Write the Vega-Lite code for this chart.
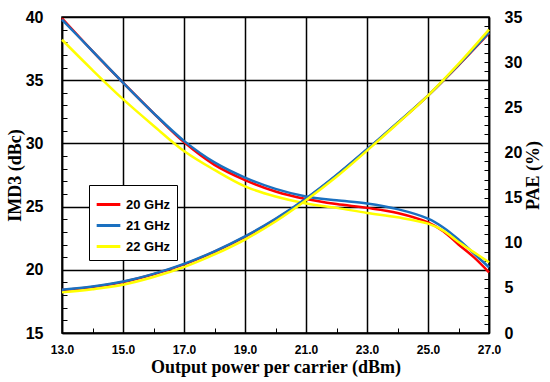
{
"$schema": "https://vega.github.io/schema/vega-lite/v6.json",
"width": 427, "height": 316,
"autosize": {"type": "none"},
"padding": {"left": 62, "top": 17, "right": 61, "bottom": 49},
"background": "white",
"config": {
  "view": {"stroke": "black", "strokeWidth": 1.5},
  "axis": {"domainColor": "black", "domainWidth": 1.5, "tickColor": "black", "tickWidth": 1, "tickSize": -5, "gridColor": "black", "gridWidth": 1.5,
    "labelFont": "Liberation Sans", "labelFontWeight": "bold", "labelColor": "black",
    "titleFont": "Liberation Serif", "titleFontWeight": "bold", "titleColor": "black", "titleFontSize": 18},
  "legend": {"orient": "none", "legendX": 27, "legendY": 168, "title": null, "strokeColor": "black", "fillColor": "white", "padding": 6,
    "symbolType": "stroke", "symbolSize": 560, "symbolStrokeWidth": 3, "labelFont": "Liberation Sans", "labelFontWeight": "bold", "labelFontSize": 13, "labelColor": "black", "rowPadding": 0, "labelOffset": 4}
},
"data": {"values": [
{"s":"20 GHz","x":13,"imd":39.9,"pae":4.75},
{"s":"20 GHz","x":14,"imd":37.3,"pae":5.1},
{"s":"20 GHz","x":15,"imd":34.8,"pae":5.65},
{"s":"20 GHz","x":16,"imd":32.4,"pae":6.5},
{"s":"20 GHz","x":17,"imd":30.1,"pae":7.6},
{"s":"20 GHz","x":18,"imd":28.3,"pae":9.0},
{"s":"20 GHz","x":19,"imd":27.1,"pae":10.65},
{"s":"20 GHz","x":20,"imd":26.2,"pae":12.6},
{"s":"20 GHz","x":21,"imd":25.6,"pae":14.85},
{"s":"20 GHz","x":22,"imd":25.2,"pae":17.45},
{"s":"20 GHz","x":23,"imd":24.9,"pae":20.3},
{"s":"20 GHz","x":24,"imd":24.5,"pae":23.25},
{"s":"20 GHz","x":25,"imd":23.75,"pae":26.3},
{"s":"20 GHz","x":25.5,"imd":23.05,"pae":null},
{"s":"20 GHz","x":26,"imd":22.0,"pae":29.65},
{"s":"20 GHz","x":26.5,"imd":21.0,"pae":null},
{"s":"20 GHz","x":27,"imd":19.8,"pae":33.2},
{"s":"21 GHz","x":13,"imd":39.8,"pae":4.8},
{"s":"21 GHz","x":14,"imd":37.3,"pae":5.15},
{"s":"21 GHz","x":15,"imd":34.8,"pae":5.7},
{"s":"21 GHz","x":16,"imd":32.4,"pae":6.55},
{"s":"21 GHz","x":17,"imd":30.2,"pae":7.65},
{"s":"21 GHz","x":18,"imd":28.5,"pae":9.05},
{"s":"21 GHz","x":19,"imd":27.3,"pae":10.7},
{"s":"21 GHz","x":20,"imd":26.4,"pae":12.65},
{"s":"21 GHz","x":21,"imd":25.8,"pae":14.9},
{"s":"21 GHz","x":22,"imd":25.5,"pae":17.5},
{"s":"21 GHz","x":23,"imd":25.25,"pae":20.35},
{"s":"21 GHz","x":24,"imd":24.8,"pae":23.3},
{"s":"21 GHz","x":25,"imd":24.05,"pae":26.3},
{"s":"21 GHz","x":25.5,"imd":23.35,"pae":null},
{"s":"21 GHz","x":26,"imd":22.4,"pae":29.7},
{"s":"21 GHz","x":26.5,"imd":21.3,"pae":null},
{"s":"21 GHz","x":27,"imd":20.2,"pae":33.3},
{"s":"22 GHz","x":13,"imd":38.2,"pae":4.5},
{"s":"22 GHz","x":14,"imd":35.8,"pae":4.85},
{"s":"22 GHz","x":15,"imd":33.5,"pae":5.35},
{"s":"22 GHz","x":16,"imd":31.4,"pae":6.2},
{"s":"22 GHz","x":17,"imd":29.4,"pae":7.3},
{"s":"22 GHz","x":18,"imd":27.9,"pae":8.7},
{"s":"22 GHz","x":19,"imd":26.6,"pae":10.35},
{"s":"22 GHz","x":20,"imd":25.8,"pae":12.35},
{"s":"22 GHz","x":21,"imd":25.25,"pae":14.7},
{"s":"22 GHz","x":22,"imd":24.9,"pae":17.3},
{"s":"22 GHz","x":23,"imd":24.5,"pae":20.2},
{"s":"22 GHz","x":24,"imd":24.15,"pae":23.2},
{"s":"22 GHz","x":25,"imd":23.65,"pae":26.3},
{"s":"22 GHz","x":25.5,"imd":23.1,"pae":null},
{"s":"22 GHz","x":26,"imd":22.2,"pae":29.8},
{"s":"22 GHz","x":26.5,"imd":21.4,"pae":null},
{"s":"22 GHz","x":27,"imd":20.6,"pae":33.6}
]},
"encoding": {
  "x": {"field": "x", "type": "quantitative", "scale": {"domain": [13, 27], "nice": false, "zero": false},
    "axis": {"title": "Output power per carrier (dBm)", "values": [13,14,15,16,17,18,19,20,21,22,23,24,25,26,27],
      "labelExpr": "datum.value % 2 == 1 ? format(datum.value, '.1f') : ''", "labelFontSize": 12, "labelPadding": 16, "titlePadding": 3,
      "grid": true, "gridOpacity": {"condition": {"test": "datum.value % 2 == 1", "value": 1}, "value": 0}, "labelFlush": false, "labelOverlap": false}},
  "color": {"field": "s", "type": "nominal", "scale": {"domain": ["20 GHz", "21 GHz", "22 GHz"], "range": ["#ff0000", "#1a70c0", "#ffff00"]}}
},
"layer": [
  {"mark": {"type": "line", "strokeWidth": 2.5, "interpolate": "catmull-rom"},
   "encoding": {"y": {"field": "imd", "type": "quantitative", "scale": {"domain": [15, 40], "nice": false, "zero": false},
     "axis": {"title": "IMD3 (dBc)", "orient": "left", "values": [15,16,17,18,19,20,21,22,23,24,25,26,27,28,29,30,31,32,33,34,35,36,37,38,39,40],
       "labelExpr": "datum.value % 5 == 0 ? datum.label : ''", "labelFontSize": 16, "labelPadding": 24, "titlePadding": 1,
       "grid": true, "gridOpacity": {"condition": {"test": "datum.value % 5 == 0", "value": 1}, "value": 0}, "labelOverlap": false, "labelFlush": false}}}},
  {"transform": [{"filter": "isValid(datum.pae)"}],
   "mark": {"type": "line", "strokeWidth": 2.5, "interpolate": "catmull-rom"},
   "encoding": {"y": {"field": "pae", "type": "quantitative", "scale": {"domain": [0, 35], "nice": false},
     "axis": {"title": "PAE (%)", "orient": "right", "titleAngle": -90, "titleX": 44, "titleY": 158, "titleAlign": "center", "titleBaseline": "middle",
       "values": [0,1,2,3,4,5,6,7,8,9,10,11,12,13,14,15,16,17,18,19,20,21,22,23,24,25,26,27,28,29,30,31,32,33,34,35],
       "labelExpr": "datum.value % 5 == 0 ? datum.label : ''", "labelFontSize": 16, "labelPadding": 20,
       "grid": false, "labelOverlap": false, "labelFlush": false}}}}
],
"resolve": {"scale": {"y": "independent"}}
}
